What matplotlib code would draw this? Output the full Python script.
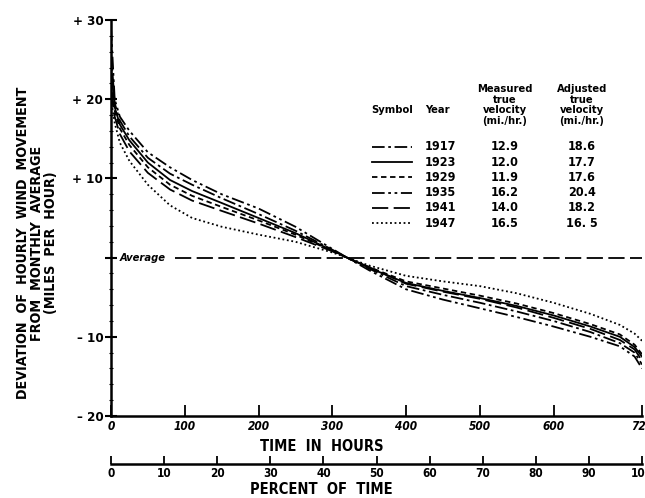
import matplotlib
matplotlib.use("Agg")
import matplotlib.pyplot as plt
from matplotlib.lines import Line2D

# narrow bold lettering like the old print; falls back to normal width if no condensed file
plt.rcParams['font.family'] = ['DejaVu Sans']
plt.rcParams['font.stretch'] = 'condensed'
plt.rcParams['font.weight'] = 'bold'

hours = [0, 5, 12, 25, 50, 80, 110, 150, 200, 250, 300, 320, 350, 400,
         450, 500, 550, 600, 650, 690, 710, 720]

dev_1917 = [26.0, 19.5, 17.3, 15.3, 12.6, 10.6, 9.2, 7.5, 5.5, 3.4, 1.0, 0.0, -1.4, -3.6,
            -4.7, -5.7, -6.8, -8.0, -9.4, -10.8, -12.0, -13.5]
dev_1923 = [24.0, 19.0, 16.8, 14.8, 12.0, 9.8, 8.4, 6.9, 5.0, 3.1, 0.9, 0.0, -1.3, -3.2,
            -4.2, -5.1, -6.1, -7.3, -8.7, -10.0, -11.3, -12.5]
dev_1929 = [22.0, 18.5, 16.3, 14.2, 11.4, 9.2, 7.8, 6.4, 4.7, 2.9, 0.85, 0.0, -1.2, -3.0,
            -3.9, -4.8, -5.8, -7.0, -8.4, -9.7, -11.0, -12.2]
dev_1935 = [29.0, 20.0, 17.8, 16.0, 13.3, 11.4, 9.8, 8.0, 6.2, 3.9, 1.1, 0.0, -1.6, -4.0,
            -5.3, -6.4, -7.5, -8.7, -10.0, -11.2, -12.5, -14.0]
dev_1941 = [21.0, 17.8, 15.6, 13.4, 10.7, 8.6, 7.2, 5.9, 4.3, 2.6, 0.8, 0.0, -1.2, -3.3,
            -4.3, -5.2, -6.3, -7.6, -9.0, -10.4, -11.6, -13.0]
dev_1947 = [20.0, 17.0, 14.5, 12.2, 9.2, 6.6, 5.0, 3.9, 2.9, 2.0, 0.65, 0.0, -1.0, -2.3,
            -3.0, -3.6, -4.5, -5.7, -7.1, -8.5, -9.6, -10.5]

years = ['1917', '1923', '1929', '1935', '1941', '1947']
measured = ['12.9', '12.0', '11.9', '16.2', '14.0', '16.5']
adjusted = ['18.6', '17.7', '17.6', '20.4', '18.2', '16. 5']
curves = [dev_1917, dev_1923, dev_1929, dev_1935, dev_1941, dev_1947]

# line style per year, same order as years
styles = [(0, (7, 2, 1.5, 2)), '-', (0, (3, 2)), (0, (7, 2, 1.5, 2, 1.5, 2)),
          (0, (9, 3)), (0, (1, 1.5))]

yticks = [-20, -10, 0, 10, 20, 30]
ylabels = ['\u2013 20', '\u2013 10', '', '+ 10', '+ 20', '+ 30']
xticks = [0, 100, 200, 300, 400, 500, 600, 720]
pticks = [0, 10, 20, 30, 40, 50, 60, 70, 80, 90, 100]

fig = plt.figure(figsize=(6.45, 4.98), dpi=100)
ax = fig.add_axes([111 / 645, 1 - 416 / 498, 531 / 645, 396 / 498])

for y, st in zip(curves, styles):
    ax.plot(hours, y, color='black', linestyle=st, linewidth=1.3)

# average line
ax.axhline(0, xmin=0.12, xmax=1.0, color='black', linestyle=(0, (9, 3)), linewidth=1.3)
ax.text(12, 0, 'Average', va='center', ha='left', fontsize=8, style='italic')

ax.set_xlim(0, 720)
ax.set_ylim(-20, 30)
for side in ['top', 'right']:
    ax.spines[side].set_visible(False)
for side in ['left', 'bottom']:
    ax.spines[side].set_linewidth(1.8)

ax.set_yticks(yticks)
ax.set_yticklabels(ylabels, fontsize=9.5)
ax.set_yticks(range(-20, 31, 2), minor=True)
ax.tick_params(axis='y', which='major', direction='inout', length=9, width=1.5, pad=1)
ax.tick_params(axis='y', which='minor', direction='inout', length=3, width=0.8)

ax.set_xticks(xticks)
ax.set_xticklabels([str(t) for t in xticks], fontsize=8.5, style='italic')
ax.tick_params(axis='x', direction='in', length=8, width=1.3, pad=3)

# percent of time axis below
sec = ax.secondary_xaxis(-0.1215, functions=(lambda h: h / 7.2, lambda p: p * 7.2))
sec.set_xticks(pticks)
sec.set_xticklabels([str(t) for t in pticks], fontsize=8.5)
sec.tick_params(axis='x', direction='in', length=6, width=1.3, pad=2)
sec.spines['bottom'].set_linewidth(1.8)

fig.text(322 / 645, 1 - 446 / 498, 'TIME  IN  HOURS', ha='center', va='center', fontsize=10.5)
fig.text(321 / 645, 1 - 489 / 498, 'PERCENT  OF  TIME', ha='center', va='center', fontsize=10.5)

ylab = ['DEVIATION  OF  HOURLY  WIND  MOVEMENT', 'FROM  MONTHLY  AVERAGE', '(MILES  PER  HOUR)']
for i, t in enumerate(ylab):
    fig.text((23 + 14 * i) / 645, 1 - 243 / 498, t, rotation=90, ha='center', va='center',
             fontsize=10.3)

# legend table
hx = {'sym': 392, 'year': 425, 'meas': 505, 'adj': 582}
fig.text(hx['sym'] / 645, 1 - 110 / 498, 'Symbol', ha='center', va='center', fontsize=8)
fig.text(hx['year'] / 645, 1 - 110 / 498, 'Year', ha='left', va='center', fontsize=8)
fig.text(hx['meas'] / 645, 1 - 105 / 498, 'Measured\ntrue\nvelocity\n(mi./hr.)', ha='center',
         va='center', fontsize=8, linespacing=1.05)
fig.text(hx['adj'] / 645, 1 - 105 / 498, 'Adjusted\ntrue\nvelocity\n(mi./hr.)', ha='center',
         va='center', fontsize=8, linespacing=1.05)
for i, (yr, m, a, st) in enumerate(zip(years, measured, adjusted, styles)):
    yy = 1 - (147 + 15.2 * i) / 498
    fig.add_artist(Line2D([372 / 645, 412 / 645], [yy, yy], color='black',
                          linestyle=st, linewidth=1.3))
    fig.text(hx['year'] / 645, yy, yr, ha='left', va='center', fontsize=9)
    fig.text(hx['meas'] / 645, yy, m, ha='center', va='center', fontsize=9)
    fig.text(hx['adj'] / 645, yy, a, ha='center', va='center', fontsize=9)

fig.savefig('out.png', dpi=100)
